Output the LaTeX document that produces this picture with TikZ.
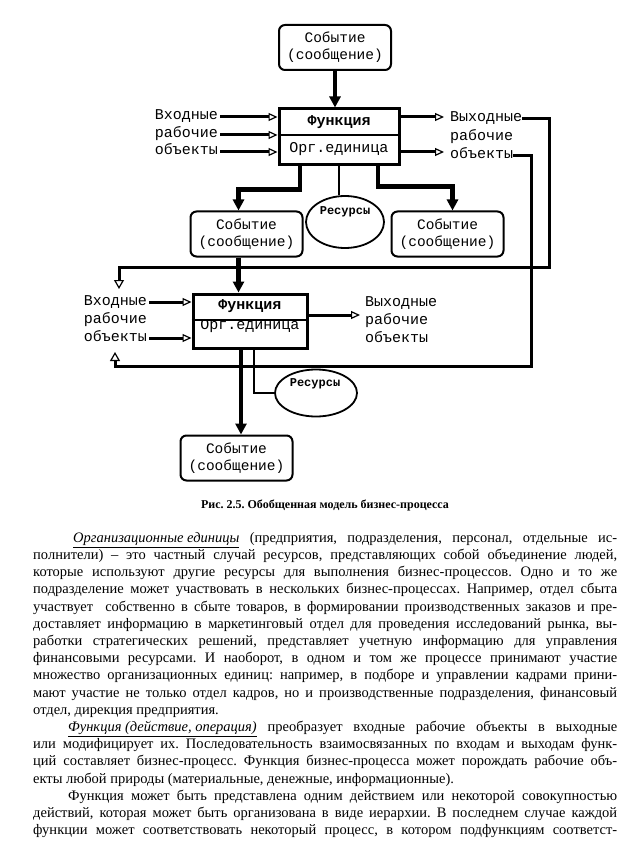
\documentclass[tikz,border=0pt]{standalone}
\usepackage{fontspec}
\setmainfont{Liberation Serif}
\newfontfamily\diagfont{Liberation Mono}
\usetikzlibrary{arrows.meta,calc,shapes.geometric}
\newcommand{\jline}[1]{\makebox[584pt][s]{#1}}
\newcommand{\uit}[1]{\underline{\textit{#1}}}
\frenchspacing

\begin{document}
\begin{tikzpicture}[x=1pt,y=-1pt,
  event/.style={draw,rounded corners=6pt,line width=2pt,minimum width=112pt,minimum height=45pt,align=center,inner sep=2pt,font=\diagfont\fontsize{14.5}{17}\selectfont},
  fbox/.style={draw,line width=3pt,minimum width=118pt,minimum height=55pt,inner sep=0pt},
  flabel/.style={inner sep=0pt,font=\diagfont\fontsize{15}{17}\selectfont},
  lbl/.style={inner sep=0pt,text height=8pt,text depth=2pt,font=\diagfont\fontsize{15}{17}\selectfont},
  res/.style={draw,ellipse,line width=1.8pt,inner sep=0pt},
  rlabel/.style={inner sep=0pt,font=\diagfont\bfseries\fontsize{12}{14}\selectfont},
  bigarrow/.style={line width=4.5pt,-{Triangle[length=11pt,width=11pt]}},
  inarrow/.style={line width=3pt,-{Triangle[open,length=9pt,width=8pt,line width=1.2pt]}},
  fbline/.style={line width=3pt,-{Triangle[open,length=9pt,width=10pt,line width=1.2pt]}},
  resline/.style={line width=2pt},
  capt/.style={inner sep=0pt,font=\bfseries\fontsize{12}{14}\selectfont},
  body/.style={inner sep=0pt,align=left,font=\fontsize{14.5}{17.2}\selectfont}]
\fill[white] (0,0) rectangle (643,850);
\useasboundingbox (0,0) rectangle (643,850);

% first function
\node[event] (ev1) at (335,47.5) {Событие\\(сообщение)};
\node[fbox,minimum width=120pt,minimum height=56pt] (f1) at (339,137) {};
\node[flabel,font=\diagfont\bfseries\fontsize{15}{17}\selectfont] (f1a) at ([yshift=14.5pt]f1.center) {Функция};
\node[flabel] (f1b) at ([yshift=-12pt]f1.center) {Орг.единица};
\draw[line width=1.2pt] ([yshift=2pt]f1.west) -- ([yshift=2pt]f1.east);

\node[lbl,anchor=east] (i1a) at (218,117) {Входные};
\node[lbl,anchor=east] (i1b) at (218,135) {рабочие};
\node[lbl,anchor=east] (i1c) at (218,152) {объекты};
\foreach \n in {i1a,i1b,i1c}
  \draw[inarrow] ([xshift=2pt]\n.east) -- (\n.east -| f1.west);

\node[lbl,anchor=west] (o1a) at (450,119) {Выходные};
\node[lbl,anchor=west] (o1b) at (450,138) {рабочие};
\node[lbl,anchor=west] (o1c) at (450,156) {объекты};
\draw[inarrow] ($(f1.east |- o1a.west)+(0,-2)$) -- ($(o1a.west)+(-6,-2)$);
\draw[inarrow] ($(f1.east |- o1c.west)+(0,-4)$) -- ($(o1c.west)+(-6,-4)$);

\draw[bigarrow] (ev1.south) -- (ev1.south |- f1.north);

% events and resources below
\node[event] (ev2) at (246.5,234) {Событие\\(сообщение)};
\node[event] (ev3) at (447.5,234) {Событие\\(сообщение)};
\node[res,minimum width=78pt,minimum height=52pt] (r1) at (345,222) {};
\node[rlabel] (r1t) at (345,212) {Ресурсы};

\draw[bigarrow] ([xshift=-39pt]f1.south) -- ++(0,23) -| ([xshift=-8pt]ev2.north);
\draw[bigarrow] ([xshift=39pt]f1.south) -- ++(0,20) -| ([xshift=5pt]ev3.north);
\draw[resline] (f1.south) -- (f1.south |- r1.north);

% second function
\node[fbox,minimum width=114pt,minimum height=54pt] (f2) at (250,321) {};
\node[flabel,font=\diagfont\bfseries\fontsize{15}{17}\selectfont] (f2a) at ([yshift=15pt]f2.center) {Функция};
\node[flabel] (f2b) at ([yshift=-5pt]f2.center) {Орг.единица};
\draw[line width=1.2pt] ([yshift=1pt]f2.west) -- ([yshift=1pt]f2.east);

\coordinate (a2) at ($(ev2.south)+(-8,0)$);
\draw[bigarrow] (a2) -- (a2 |- f2.north);

\node[lbl,anchor=east] (i2a) at (147,302) {Входные};
\node[lbl,anchor=east] (i2b) at (147,320) {рабочие};
\node[lbl,anchor=east] (i2c) at (147,338) {объекты};
\foreach \n in {i2a,i2c}
  \draw[inarrow] ([xshift=2pt]\n.east) -- (\n.east -| f2.west);

\node[lbl,anchor=west] (o2a) at (365,303) {Выходные};
\node[lbl,anchor=west] (o2b) at (365,321) {рабочие};
\node[lbl,anchor=west] (o2c) at (365,339) {объекты};
\draw[inarrow] ($(f2.east)+(0,-6)$) -- ($(o2b.west)+(-5,-6)$);

% feedback lines
\coordinate (fb1) at (549,267);
\coordinate (fb1e) at (119,289);
\draw[fbline] (o1a.east) -| (fb1) -| (fb1e);
\coordinate (fb2) at (531,366);
\coordinate (fb2e) at (115,352);
\draw[fbline] (o1c.east) -| (fb2) -| (fb2e);

\node[event] (ev4) at (236.5,458) {Событие\\(сообщение)};
\node[res,minimum width=82pt,minimum height=47pt] (r2) at (316,393) {};
\node[rlabel] (r2t) at (315,384) {Ресурсы};
\coordinate (a4) at ($(f2.south)+(-9,0)$);
\draw[bigarrow] (a4) -- (a4 |- ev4.north);
\draw[resline] ($(f2.south)+(4,0)$) |- (r2.west);

% caption and text
\node[capt] (cap) at (325,505) {Рис. 2.5. Обобщенная модель бизнес-процесса};
\node[body,anchor=north west] (txt) at (33,532) {%
\jline{\hspace*{40pt}\uit{Организационные единицы} (предприятия, подразделения, персонал, отдельные ис-}\\
\jline{полнители) – это частный случай ресурсов, представляющих собой объединение людей,}\\
\jline{которые используют другие ресурсы для выполнения бизнес-процессов. Одно и то же}\\
\jline{подразделение может участвовать в нескольких бизнес-процессах. Например, отдел сбыта}\\
\jline{участвует \ собственно в сбыте товаров, в формировании производственных заказов и пре-}\\
\jline{доставляет информацию в маркетинговый отдел для проведения исследований рынка, вы-}\\
\jline{работки стратегических решений, представляет учетную информацию для управления}\\
\jline{финансовыми ресурсами. И наоборот, в одном и том же процессе принимают участие}\\
\jline{множество организационных единиц: например, в подборе и управлении кадрами прини-}\\
\jline{мают участие не только отдел кадров, но и производственные подразделения, финансовый}\\
отдел, дирекция предприятия.\\
\jline{\hspace*{35pt}\uit{Функция (действие, операция)} преобразует входные рабочие объекты в выходные}\\
\jline{или модифицирует их. Последовательность взаимосвязанных по входам и выходам функ-}\\
\jline{ций составляет бизнес-процесс. Функция бизнес-процесса может порождать рабочие объ-}\\
екты любой природы (материальные, денежные, информационные).\\
\jline{\hspace*{35pt}Функция может быть представлена одним действием или некоторой совокупностью}\\
\jline{действий, которая может быть организована в виде иерархии. В последнем случае каждой}\\
\jline{функции может соответствовать некоторый процесс, в котором подфункциям соответст-}};
\end{tikzpicture}
\end{document}
